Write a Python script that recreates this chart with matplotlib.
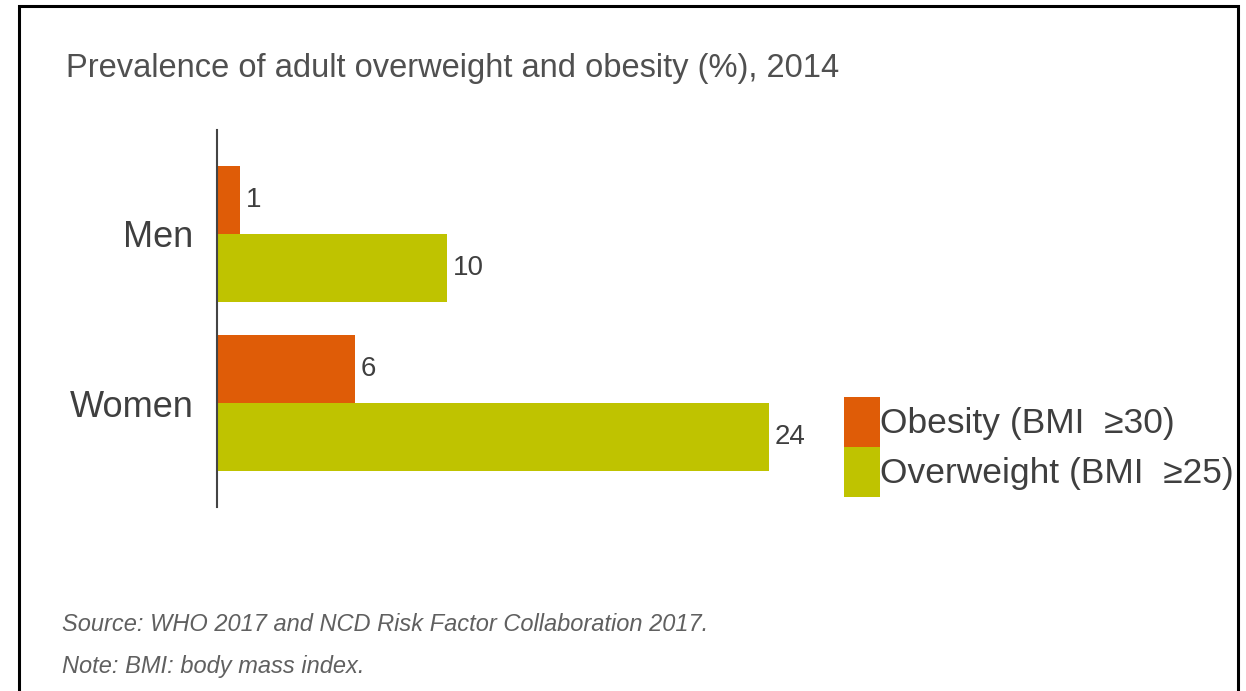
import matplotlib
matplotlib.use("Agg")
import matplotlib.pyplot as plt
from matplotlib.patches import Rectangle

plt.rcParams['font.family'] = ['Liberation Sans', 'DejaVu Sans']

# prevalence (%) by sex, 2014
groups = ["Men", "Women"]
obesity = [1, 6]
overweight = [10, 24]
series_names = ["Obesity (BMI  \u226530)", "Overweight (BMI  \u226525)"]

orange = "#DF5C07"
green = "#BFC300"
txt = "#3f3f3f"

fig = plt.figure(figsize=(12.46, 6.91), dpi=100)
ax = fig.add_axes([217/1246, 184/691, 598/1246, 377/691])

ypos = list(range(len(groups)))
h = 0.4
b1 = ax.barh([y - h/2 for y in ypos], obesity, height=h, color=orange, label=series_names[0])
b2 = ax.barh([y + h/2 for y in ypos], overweight, height=h, color=green, label=series_names[1])

# value labels at bar ends
for bars, vals in [(b1, obesity), (b2, overweight)]:
    for r, v in zip(bars, vals):
        ax.annotate(str(v), (r.get_width(), r.get_y() + r.get_height()/2),
                    xytext=(4, 0), textcoords="offset points",
                    ha="left", va="center", fontsize=20, color=txt)

ax.set_xlim(0, 26)
ax.set_ylim(1.615, -0.615)
ax.set_yticks(ypos)
ax.set_yticklabels(groups, fontsize=26, color=txt)
ax.tick_params(axis="y", length=0, pad=17)
ax.set_xticks([])
for s in ["top", "right", "bottom"]:
    ax.spines[s].set_visible(False)
ax.spines["left"].set_color("#444444")
ax.spines["left"].set_linewidth(1.5)

# legend swatches 36 x 50 px, stacked with no gap
fs_leg = 25.5
fs_px = fs_leg * 100 / 72
sw_w, sw_h = 36, 50
hh = (sw_h - 0.245 * fs_px) / 0.65 / fs_px
fig.legend(handles=[b1, b2], labels=series_names, loc="upper left",
           bbox_to_anchor=(844/1246, 1 - 397/691), frameon=False,
           fontsize=fs_leg, borderpad=0, borderaxespad=0, labelspacing=0,
           handletextpad=0, handlelength=sw_w/fs_px,
           handleheight=hh, labelcolor=txt)

fig.text(66/1246, 1 - 77/691, "Prevalence of adult overweight and obesity (%), 2014",
         fontsize=23.5, color="#505050", ha="left", va="baseline")
fig.text(62/1246, 1 - 631/691, "Source: WHO 2017 and NCD Risk Factor Collaboration 2017.",
         fontsize=17, style="italic", color="#606060", ha="left", va="baseline")
fig.text(62/1246, 1 - 673/691, "Note: BMI: body mass index.",
         fontsize=17, style="italic", color="#606060", ha="left", va="baseline")

# black frame around the chart
fig.patches.append(Rectangle((18.5/1246, -0.05), (1237.5 - 18.5)/1246, 1.05 - 6/691,
                             transform=fig.transFigure, fill=False,
                             edgecolor="black", linewidth=2.2))

fig.savefig("out.png", dpi=100, facecolor="white")
